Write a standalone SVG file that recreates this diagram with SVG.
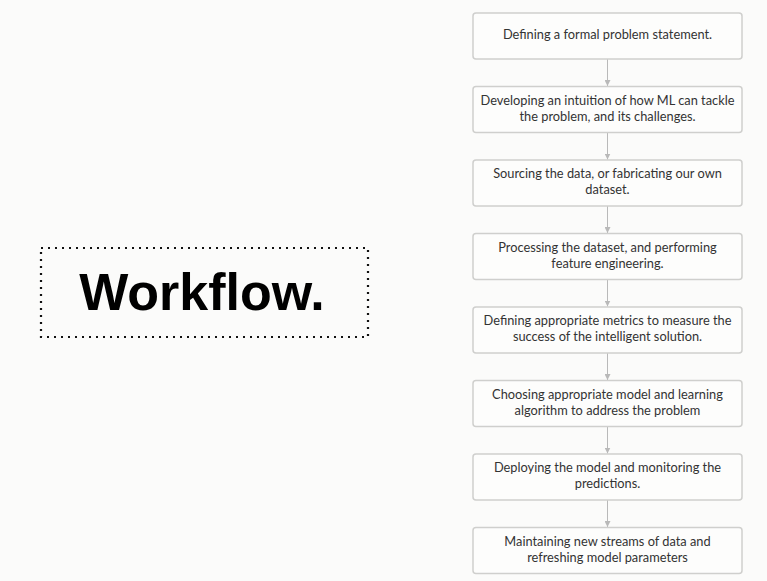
<svg xmlns="http://www.w3.org/2000/svg" width="767" height="581" viewBox="0 0 767 581">
<style>
.bg{fill:#fbfbfa}
.box{fill:#fdfdfc;stroke:#cfcfcd;stroke-width:1.5}
.t{font-family:Lato,"Noto Sans",sans-serif;font-size:12.8px;fill:#333;text-anchor:middle}
.c{stroke:#b9b9b9;stroke-width:1;fill:none}
.title{font-family:"Liberation Sans",Arial,Helvetica,sans-serif;font-weight:bold;font-size:52px;fill:#000;text-anchor:middle}
</style>
<defs>
<marker id="ah" viewBox="0 0 8 8" refX="8" refY="4" markerWidth="6" markerHeight="6" orient="auto" markerUnits="userSpaceOnUse">
<path d="M0,0 L8,4 L0,8 z" fill="#b9b9b9"/>
</marker>
</defs>
<rect class="bg" x="0" y="0" width="767" height="581"/>
<g id="title">
<rect x="41" y="248" width="327" height="89" fill="none" stroke="#111" stroke-width="2.2" stroke-dasharray="2 5"/>
<text class="title" x="202" y="310">Workflow.</text>
</g>
<g id="connectors">
<line class="c" x1="607.5" y1="59" x2="607.5" y2="86" marker-end="url(#ah)"/>
<line class="c" x1="607.5" y1="132.5" x2="607.5" y2="159.5" marker-end="url(#ah)"/>
<line class="c" x1="607.5" y1="206" x2="607.5" y2="233" marker-end="url(#ah)"/>
<line class="c" x1="607.5" y1="279.5" x2="607.5" y2="306.5" marker-end="url(#ah)"/>
<line class="c" x1="607.5" y1="353" x2="607.5" y2="380" marker-end="url(#ah)"/>
<line class="c" x1="607.5" y1="426.5" x2="607.5" y2="453.5" marker-end="url(#ah)"/>
<line class="c" x1="607.5" y1="500" x2="607.5" y2="527" marker-end="url(#ah)"/>
</g>
<g id="n1"><rect class="box" x="473" y="13" width="269" height="46" rx="3"/><text class="t" x="607.5" y="39">Defining a formal problem statement.</text></g>
<g id="n2"><rect class="box" x="473" y="86.5" width="269" height="46" rx="3"/><text class="t" x="607.5" y="104.5">Developing an intuition of how ML can tackle</text><text class="t" x="607.5" y="120.5">the problem, and its challenges.</text></g>
<g id="n3"><rect class="box" x="473" y="160" width="269" height="46" rx="3"/><text class="t" x="607.5" y="178">Sourcing the data, or fabricating our own</text><text class="t" x="607.5" y="194">dataset.</text></g>
<g id="n4"><rect class="box" x="473" y="233.5" width="269" height="46" rx="3"/><text class="t" x="607.5" y="251.5">Processing the dataset, and performing</text><text class="t" x="607.5" y="267.5">feature engineering.</text></g>
<g id="n5"><rect class="box" x="473" y="307" width="269" height="46" rx="3"/><text class="t" x="607.5" y="325">Defining appropriate metrics to measure the</text><text class="t" x="607.5" y="341">success of the intelligent solution.</text></g>
<g id="n6"><rect class="box" x="473" y="380.5" width="269" height="46" rx="3"/><text class="t" x="607.5" y="398.5">Choosing appropriate model and learning</text><text class="t" x="607.5" y="414.5">algorithm to address the problem</text></g>
<g id="n7"><rect class="box" x="473" y="454" width="269" height="46" rx="3"/><text class="t" x="607.5" y="472">Deploying the model and monitoring the</text><text class="t" x="607.5" y="488">predictions.</text></g>
<g id="n8"><rect class="box" x="473" y="527.5" width="269" height="46" rx="3"/><text class="t" x="607.5" y="545.5">Maintaining new streams of data and</text><text class="t" x="607.5" y="561.5">refreshing model parameters</text></g>
</svg>
